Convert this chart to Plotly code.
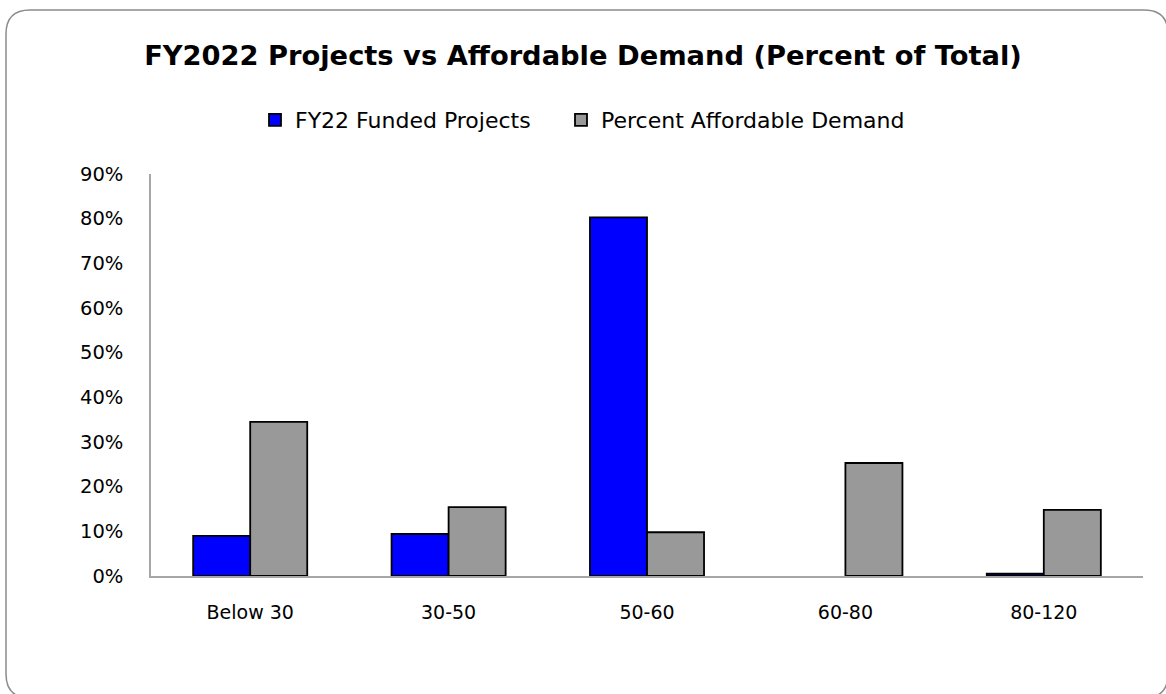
import plotly.graph_objects as go

# data
categories = ["Below 30", "30-50", "50-60", "60-80", "80-120"]
funded_projects = [0.090, 0.094, 0.803, None, 0.005]
affordable_demand = [0.345, 0.154, 0.098, 0.253, 0.148]

W, H = 1166, 694
L, R, T, B = 151, 1143, 174, 576  # plot area in pixels


def px(x):
    return (x - L) / (R - L)


def py(y):
    return (B - y) / (B - T)


fig = go.Figure()
fig.add_trace(go.Bar(
    x=categories, y=funded_projects, name="FY22 Funded Projects",
    marker=dict(color="#0000FF", line=dict(color="black", width=1.8)),
    legend="legend",
))
fig.add_trace(go.Bar(
    x=categories, y=affordable_demand, name="Percent Affordable Demand",
    marker=dict(color="#999999", line=dict(color="black", width=1.8)),
    legend="legend2",
))

# rounded outer border (runs slightly off the right/bottom edge)
x0, x1, y0, y1, r = 6, 1168, 10, 698, 24
path = (
    f"M {px(x0 + r)},{py(y0)} L {px(x1 - r)},{py(y0)} "
    f"Q {px(x1)},{py(y0)} {px(x1)},{py(y0 + r)} "
    f"L {px(x1)},{py(y1 - r)} Q {px(x1)},{py(y1)} {px(x1 - r)},{py(y1)} "
    f"L {px(x0 + r)},{py(y1)} Q {px(x0)},{py(y1)} {px(x0)},{py(y1 - r)} "
    f"L {px(x0)},{py(y0 + r)} Q {px(x0)},{py(y0)} {px(x0 + r)},{py(y0)} Z"
)
fig.add_shape(type="path", xref="paper", yref="paper", path=path,
              line=dict(color="#8c8c8c", width=1.5), layer="below")

legend_style = dict(orientation="h", xanchor="left", y=py(120), yanchor="middle",
                    font=dict(size=22), itemwidth=30)

fig.update_layout(
    width=W, height=H,
    margin=dict(l=L, r=W - R, t=T, b=H - B),
    paper_bgcolor="white", plot_bgcolor="white",
    font=dict(family="DejaVu Sans", size=19, color="black"),
    title=dict(text="<b>FY2022 Projects vs Affordable Demand (Percent of Total)</b>",
               x=0.5, xanchor="center", y=1 - 55 / H, yanchor="middle",
               font=dict(size=27.3, color="black")),
    barmode="group", bargap=0.425, bargroupgap=0,
    legend=dict(x=px(255), **legend_style),
    legend2=dict(x=px(561), **legend_style),
    showlegend=True,
)
fig.update_xaxes(showline=True, linecolor="#a6a6a6", linewidth=1.5, showgrid=False,
                 ticks="", ticklabelstandoff=18, tickfont=dict(size=19))
fig.update_yaxes(range=[0, 0.9], dtick=0.1, tickformat=".0%", showline=True,
                 linecolor="#a6a6a6", linewidth=1.5, showgrid=False, ticks="",
                 zeroline=False, ticklabelstandoff=22, tickfont=dict(size=19.5))

fig.write_html("out.html", config={"displayModeBar": False},
               post_script="document.body.style.margin='0';")
